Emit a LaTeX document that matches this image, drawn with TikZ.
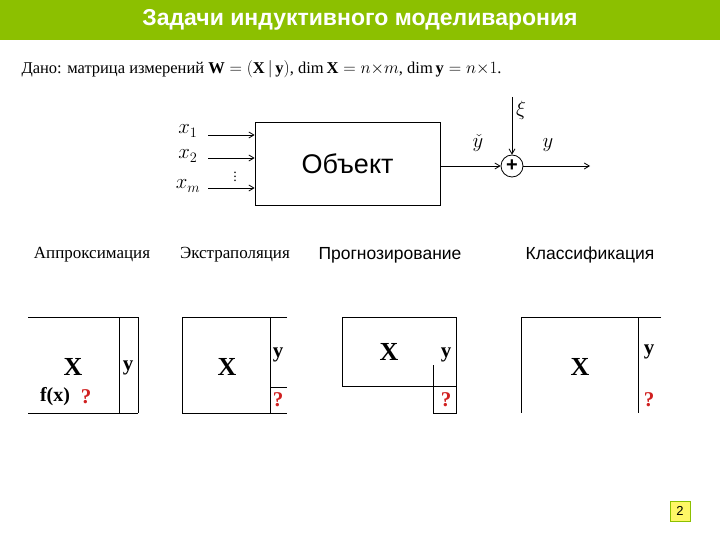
\documentclass[tikz,border=0pt]{standalone}
\usepackage{fontspec}
\setmainfont{Liberation Serif}
\newfontfamily\arial{Liberation Sans}
\usetikzlibrary{arrows.meta}
\definecolor{hdr}{HTML}{8CC000}
\definecolor{qred}{HTML}{D02020}
\tikzset{
 ln/.style={line width=0.8pt},
 arr/.style={ln,-{Straight Barb[length=5pt,width=6pt]}},
 mx/.style={font=\bfseries\fontsize{26}{26}\selectfont},
 my/.style={font=\bfseries\fontsize{21}{21}\selectfont},
 q/.style={font=\bfseries\fontsize{21}{21}\selectfont,text=qred},
 ml/.style={font=\fontsize{20}{20}\selectfont},
}
\begin{document}
\begin{tikzpicture}[x=1pt,y=-1pt]
\useasboundingbox (0,0) rectangle (720,540);
\fill[hdr] (0,0) rectangle (720,40);
\node[text=white,font=\arial\bfseries\fontsize{23}{23}\selectfont] (title) at (360,20) {Задачи индуктивного моделиварония};
\node[anchor=west,font=\fontsize{16.5}{16.5}\selectfont] (given) at (18,69) {Дано: матрица измерений $\mathbf{W}=(\mathbf{X}\,|\,\mathbf{y})$, $\dim\mathbf{X}=n{\times}m$, $\dim\mathbf{y}=n{\times}1$.};
% block diagram
\node[draw,ln,minimum width=185pt,minimum height=83pt,font=\arial\fontsize{27}{27}\selectfont] (obj) at (347.5,163.5) {Объект};
\coordinate (i1) at (208,135); \coordinate (i2) at (208,158); \coordinate (i3) at (208,188);
\draw[arr] (i1) -- (i1 -| obj.west);
\draw[arr] (i2) -- (i2 -| obj.west);
\draw[arr] (i3) -- (i3 -| obj.west);
\node[ml] (x1) at (188,131) {$x_1$};
\node[ml] (x2) at (188,156) {$x_2$};
\node[ml] (xm) at (188,186) {$x_m$};
\node[inner sep=0pt,font=\fontsize{14}{14}\selectfont] (dots) at (235,174) {$\vdots$};
\node[draw,circle,ln,minimum size=22pt,inner sep=0pt,font=\arial\bfseries\fontsize{20}{20}\selectfont] (plus) at (512,166) {+};
\draw[arr] (obj.east |- plus) -- (plus.west);
\coordinate (xi) at (512,97);
\draw[arr] (xi) -- (plus.north);
\coordinate (out) at (590,166);
\draw[arr] (plus.east) -- (out);
\node[ml] (lxi) at (521,110) {$\xi$};
\node[ml,inner sep=1pt] (lyh) at (478,143) {$\check y$};
\node[ml] (ly) at (548,145) {$y$};
% headings
\node[font=\fontsize{17}{17}\selectfont] (h1) at (92,255) {Аппроксимация};
\node[font=\fontsize{17}{17}\selectfont] (h2) at (235,255) {Экстраполяция};
\node[font=\arial\fontsize{17.5}{17.5}\selectfont] (h3) at (390,255) {Прогнозирование};
\node[font=\arial\fontsize{17.5}{17.5}\selectfont] (h4) at (590,255) {Классификация};
% matrix 1
\draw[ln] (28,317) -- (138,317) (28,413) -- (138,413) (119,317) -- (119,413) (138,317) -- (138,413);
\node[mx] (m1x) at (73,367) {X};
\node[my] (m1y) at (128,368) {y};
\node[font=\bfseries\fontsize{20}{20}\selectfont] (m1f) at (55,397) {f(x)};
\node[q] (m1q) at (86,397) {?};
% matrix 2
\draw[ln] (287,317) -- (182,317) -- (182,413) -- (287,413) (270,317) -- (270,413) (270,387) -- (287,387);
\node[mx] (m2x) at (227,367) {X};
\node[my] (m2y) at (278,355) {y};
\node[q] (m2q) at (278,400) {?};
% matrix 3
\draw[ln] (456,386) -- (342,386) -- (342,317) -- (456,317) -- (456,413) -- (433,413) -- (433,365) (433,386) -- (456,386);
\node[mx] (m3x) at (389,352) {X};
\node[my] (m3y) at (446,355) {y};
\node[q] (m3q) at (446,400) {?};
% matrix 4
\draw[ln] (661,317) -- (521,317) -- (521,413) (638,317) -- (638,413);
\node[mx] (m4x) at (580,367) {X};
\node[my] (m4y) at (649,352) {y};
\node[q] (m4q) at (649,400) {?};
% page number
\node[draw=hdr,fill=yellow!60,line width=1pt,minimum size=20pt,inner sep=0pt,font=\arial\fontsize{13}{13}\selectfont] (pg) at (680,511) {2};
\end{tikzpicture}
\end{document}
